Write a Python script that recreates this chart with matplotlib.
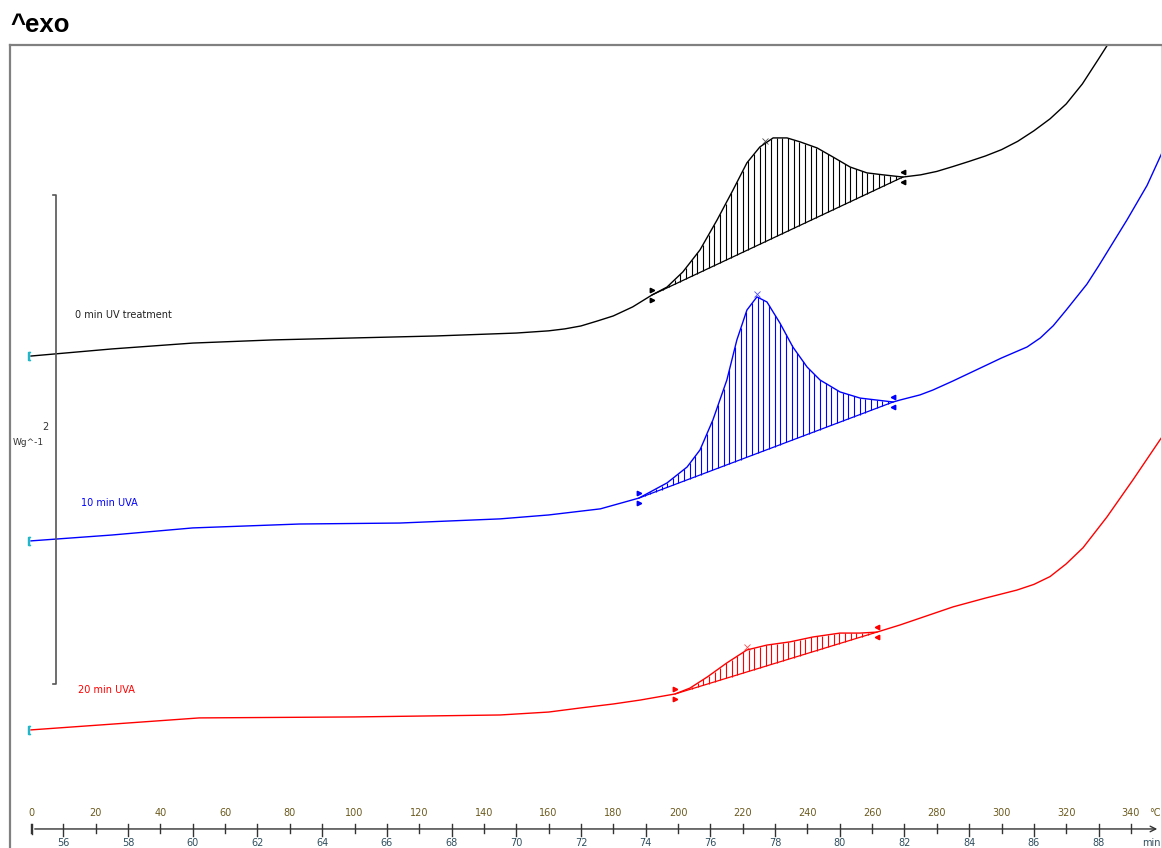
import numpy as np
import matplotlib.pyplot as plt

# DSC traces: temperature (°C) and heat flow (W/g, stacked offsets)
t_black = [0, 25, 50, 75, 100, 125, 150, 160, 165, 170, 175, 180, 186, 192, 196.6, 201.5,
           206.8, 212.1, 217, 221.3, 225.3, 229.4, 233.7, 237.7, 243, 247.9, 253.2, 258.4,
           263.4, 269.5, 275, 280, 285, 290, 295, 300, 305, 310, 315, 320, 325, 330, 334]
hf_black = [2.012, 2.041, 2.065, 2.078, 2.086, 2.094, 2.106, 2.115, 2.123, 2.135, 2.155,
            2.176, 2.213, 2.262, 2.294, 2.356, 2.446, 2.569, 2.691, 2.802, 2.867, 2.904,
            2.904, 2.888, 2.863, 2.826, 2.785, 2.761, 2.753, 2.744, 2.753, 2.767, 2.787,
            2.808, 2.830, 2.856, 2.890, 2.933, 2.982, 3.043, 3.125, 3.227, 3.31]

t_blue = [0, 25, 50, 83, 114, 145, 160, 176, 187.9, 196.6, 202.8, 206.8, 210.8, 215.1,
          218.2, 221.3, 224.4, 227.5, 231.5, 235.5, 239.9, 243.9, 250.1, 256.3, 266.5,
          268.6, 274.8, 278.8, 285, 300, 307.9, 312, 316, 320, 326.4, 330, 338.8, 345, 349.6]
hf_blue = [1.256, 1.280, 1.309, 1.325, 1.329, 1.346, 1.362, 1.387, 1.431, 1.493, 1.558,
           1.628, 1.751, 1.914, 2.078, 2.200, 2.254, 2.233, 2.147, 2.049, 1.967, 1.914,
           1.865, 1.840, 1.824, 1.832, 1.853, 1.873, 1.910, 2.004, 2.049, 2.086, 2.136,
           2.200, 2.306, 2.380, 2.569, 2.710, 2.843]

t_red = [0, 52, 100, 145, 160, 170, 180, 188.3, 199.1, 203.7, 209.0, 215.1, 221.3, 227.5,
         234.6, 241.7, 250.1, 256.3, 261.5, 268.6, 285.0, 295, 304.8, 310, 315, 320, 325.2,
         332.6, 340.6, 349.6]
hf_red = [0.483, 0.532, 0.536, 0.544, 0.556, 0.573, 0.589, 0.605, 0.630, 0.654, 0.699,
          0.757, 0.810, 0.830, 0.843, 0.863, 0.879, 0.879, 0.883, 0.912, 0.986, 1.022,
          1.055, 1.078, 1.110, 1.162, 1.228, 1.354, 1.505, 1.681]

labels = ["0 min UV treatment", "10 min UVA", "20 min UVA"]
colors = ["black", "#0000ff", "#ff0000"]
label_pos = [(13.5, 2.181), (15.5, 1.411), (14.5, 0.646)]

# integration limits (°C) and peak temperatures
limits = [(192.0, 269.5), (187.9, 266.5), (199.1, 261.5)]
peaks = [227.0, 224.4, 221.3]

temp_ticks = list(range(0, 341, 20))
min_ticks = list(range(56, 89, 2))
t_zero_min = 55.0
heat_rate = 10.0

fig = plt.figure(figsize=(11.62, 8.48), dpi=100)
ax = fig.add_axes([10 / 1162, 0, 1151 / 1162, 803 / 848])
ax.set_xlim(-6.49, 349.3)
ax.set_ylim(0, 3.284)
ax.set_xticks([])
ax.set_yticks([])
for s in ["left", "top"]:
    ax.spines[s].set_color("#808080")
    ax.spines[s].set_linewidth(1.6)
ax.spines["right"].set_color("#d8d8d8")
ax.spines["right"].set_linewidth(0.8)
ax.spines["bottom"].set_visible(False)

series = [(t_black, hf_black), (t_blue, hf_blue), (t_red, hf_red)]
for (tt, hf), col, lab, lp, lim, pk in zip(series, colors, labels, label_pos, limits, peaks):
    tt = np.array(tt)
    hf = np.array(hf)
    ax.plot(tt, hf, color=col, lw=1.0)

    # hatched peak area between trace and linear baseline
    y0 = np.interp(lim[0], tt, hf)
    y1 = np.interp(lim[1], tt, hf)
    xs = np.arange(lim[0], lim[1], 1.75)
    base = y0 + (y1 - y0) * (xs - lim[0]) / (lim[1] - lim[0])
    ax.vlines(xs, base, np.interp(xs, tt, hf), color=col, lw=0.8)
    ax.plot(lim, [y0, y1], color=col, lw=0.9)

    # limit markers
    ax.plot([lim[0]] * 2, [y0 + 0.022, y0 - 0.022], ls="none", marker=">", ms=3.2, color=col)
    ax.plot([lim[1]] * 2, [y1 + 0.022, y1 - 0.022], ls="none", marker="<", ms=3.2, color=col)
    ax.plot(pk, np.interp(pk, tt, hf) + 0.01, marker="x", ms=5, mew=0.6, color=col, alpha=0.7)

    # cyan start bracket
    ax.plot(tt[0] - 0.6, hf[0], marker="$[$", ms=6, color="#20b8c8")

    ax.text(lp[0], lp[1], lab, color="#222222" if col == "black" else col,
            fontsize=7, va="center", ha="left")

# scale bar for 2 W/g
bar_x = 7.6
ax.plot([bar_x - 0.8, bar_x, bar_x, bar_x - 0.8], [2.669, 2.669, 0.67, 0.67],
        color="#555555", lw=1.2)
ax.text(bar_x - 3.3, 1.723, "2", fontsize=7, ha="center", va="center", color="#333333")
ax.text(-5.5, 1.66, "Wg^-1", fontsize=6.5, ha="left", va="center", color="#333333")

# temperature / time axis drawn inside the frame
trans = ax.get_xaxis_transform()
ax_y = 0.0237
ax.annotate("", xy=(349.0, ax_y), xytext=(0.3, ax_y), xycoords=trans, textcoords=trans,
            arrowprops=dict(arrowstyle="->", color="#333333", lw=1.0))
ax.plot([0.3, 0.3], [ax_y - 0.006, ax_y + 0.006], transform=trans, color="#333333", lw=1.0)
for tv in temp_ticks:
    ax.plot([tv, tv], [ax_y - 0.005, ax_y + 0.006], transform=trans, color="#333333", lw=1.0)
    ax.text(tv, 0.0436, str(tv), transform=trans, fontsize=7, ha="center", va="center",
            color="#6b5a1e")
for mv in min_ticks:
    tv = (mv - t_zero_min) * heat_rate
    ax.plot([tv, tv], [ax_y - 0.009, ax_y + 0.006], transform=trans, color="#333333", lw=1.0)
    ax.text(tv, 0.0062, str(mv), transform=trans, fontsize=7, ha="center", va="center",
            color="#2f4f5f")
ax.text(345.5, 0.0436, "°C", transform=trans, fontsize=7, ha="left", va="center", color="#6b5a1e")
ax.text(343.5, 0.0062, "min", transform=trans, fontsize=7, ha="left", va="center", color="#2f4f5f")

fig.text(10 / 1162, 1 - 25 / 848, "^exo", fontsize=18.5, fontweight="bold",
         family="Liberation Sans", ha="left", va="center")

fig.savefig("out.png", dpi=100)
plt.close(fig)
